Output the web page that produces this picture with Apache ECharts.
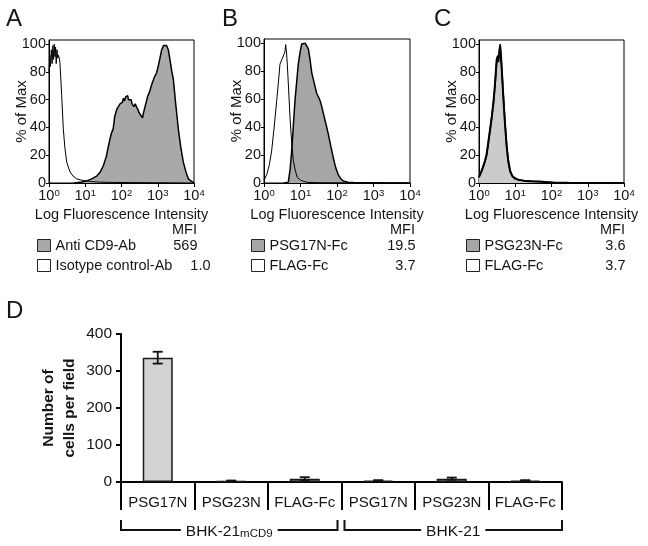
<!DOCTYPE html>
<html><head><meta charset="utf-8">
<script src="https://cdn.jsdelivr.net/npm/echarts@6/dist/echarts.min.js"></script>
<style>html,body{margin:0;padding:0;background:#fff}#c{width:648px;height:546px}</style>
</head><body><div id="c"></div>
<script>
const FONT = 'Liberation Sans, Arial, Helvetica, sans-serif';
const INK = '#151515';

// ---- Panel A: [fluorescence intensity, % of max]
const antiCD9 = [[5,0],[8,0.8],[11,1.5],[15,3],[20.7,5],[26,8],[31.5,12.4],[38,19],[44,27],[48,31.6],[53,36],[59,39],[65,48],[74,53],[82,55],[91,57],[105,58],[113,61],[120,59],[130,62],[139,61.6],[148,63],[155,60],[171,59],[185,60],[195,57],[220,55],[240,57],[262,54.5],[285,53],[300,51],[335,49],[361,48.5],[380,47],[400,50],[440,54.5],[480,58],[520,62],[600,66],[681,71],[740,72],[800,76],[935,79.6],[1050,85],[1150,90],[1285,96],[1450,99],[1585,100],[1750,99],[1954,96],[2200,88],[2450,80],[2685,75],[3100,58],[3690,39],[4300,26],[5070,15],[6000,8],[6966,3],[8200,1.5],[9550,0.5],[10000,0]];
const isotypeA = [[1,80],[1.06,92],[1.1,84],[1.16,96],[1.22,86],[1.28,99],[1.34,89],[1.4,100],[1.46,91],[1.52,98],[1.58,86],[1.66,96],[1.74,90],[1.84,92],[2.0,87],[2.24,63],[2.48,39],[2.75,25],[3.08,15],[3.8,8],[4.6,5],[5.8,3],[8,2],[11,1.5],[15,1],[25,0.6],[60,0.4],[200,0.3],[1000,0.2],[10000,0]];
// ---- Panel B
const psg17nFc = [[3.5,0],[4.63,0.5],[5.2,10],[5.74,23],[6.4,42],[7.07,59],[7.9,73],[8.7,85],[9.8,94],[10.8,99.5],[12,99],[13.3,100],[14.8,98],[16.4,96],[18.3,88],[20.3,79],[23.5,72],[27.8,64],[30.5,62],[34.2,59],[38,55],[42.2,49.8],[50,42],[57.8,35],[68,26],[79.2,18],[92,11],[108,6],[128,3],[149,1.4],[200,0.6],[280,0.3],[600,0.2],[10000,0]];
const flagFcB = [[1,2],[1.19,6],[1.4,13],[1.62,23],[1.9,40],[2.23,59],[2.5,73],[2.74,85],[3.05,88],[3.3,87],[3.53,92],[3.75,94],[3.93,99],[4.15,93],[4.35,85],[4.7,68],[5.15,47],[5.7,30],[6.35,16],[7.2,9],[8.17,4],[10,2],[14.8,0.5],[30,0.2],[10000,0]];
// ---- Panel C
const psg23nFc = [[1,4.5],[1.15,8],[1.31,12],[1.47,16],[1.63,21],[1.8,29],[2.01,38],[2.24,47],[2.48,57],[2.7,68],[2.89,79],[3.08,89],[3.28,91],[3.42,87],[3.56,88],[3.68,95],[3.8,99],[3.92,95],[4.05,91],[4.35,77],[4.68,62],[5.2,43],[5.81,26],[6.4,16],[7.16,9],[8.3,5],[9.84,3.4],[12,2.4],[16.7,1.7],[25,1.3],[48,1],[80,0.6],[112,0.2],[300,0.1],[10000,0]];
const flagFcC = [[1,4],[1.2,9],[1.4,14],[1.63,20],[1.9,33],[2.2,46],[2.5,58],[2.8,72],[3.05,86],[3.3,92],[3.5,90],[3.7,97],[3.85,100],[4.0,93],[4.3,80],[4.7,63],[5.2,44],[5.8,27],[6.5,15],[7.3,8],[8.5,4.5],[10,3],[13,2.2],[18,1.6],[30,1.2],[60,0.8],[120,0.3],[10000,0]];

const pctTicks = [0,20,40,60,80,100];
const seriesNames = [['Anti CD9-Ab','Isotype control-Ab'],['PSG17N-Fc','FLAG-Fc'],['PSG23N-Fc','FLAG-Fc']];
const mfiValues = [['569','1.0'],['19.5','3.7'],['3.6','3.7']];
const panelLetters = ['A','B','C','D'];

// ---- Panel D
const categories = ['PSG17N','PSG23N','FLAG-Fc','PSG17N','PSG23N','FLAG-Fc'];
const cellsMean = [336, 3, 9, 4, 9, 4];
const cellsErr = [16, 1, 4, 1, 3, 1];
const groupLabels = [['BHK-21','mCD9'],['BHK-21','']];
const countTicks = [0,100,200,300,400];

// layout (not data)
const histGrids = [
  {left:49, top:40, width:145, height:143},
  {left:264, top:39, width:146, height:144},
  {left:479, top:40, width:145, height:143}
];
const fills = ['#a9a9a9','#a6a6a6','#cbcbcb'];
const legendFills = ['#a9a9a9','#a6a6a6','#a6a6a6'];
const histData = [[antiCD9, isotypeA],[psg17nFc, flagFcB],[psg23nFc, flagFcC]];
const legendLeft = [37, 251, 466];
const valueRight = [[197,210],[415,415],[625,625]];

const grids = [], xAxes = [], yAxes = [], series = [], legends = [], titles = [];
histGrids.forEach((g, i) => {
  grids.push(Object.assign({show:true, borderColor:'#000', borderWidth:1, containLabel:false, outerBoundsMode:'none'}, g));
  xAxes.push({
    type:'log', logBase:10, min:1, max:10000, gridIndex:i,
    axisLine:{show:true, lineStyle:{color:'#000', width:1}},
    axisTick:{show:true, length:4, lineStyle:{color:'#000'}},
    splitLine:{show:false},
    axisLabel:{margin:5, color:INK, fontFamily:FONT,
      formatter: v => '{b|10}{s|' + Math.round(Math.log10(v)) + '}',
      rich:{b:{fontSize:14.5, fontFamily:FONT, color:INK}, s:{fontSize:9.5, fontFamily:FONT, color:INK, verticalAlign:'top'}}},
    name:'Log Fluorescence Intensity', nameLocation:'middle', nameGap:24, nameMoveOverlap:false,
    nameTextStyle:{fontSize:14.5, color:INK, fontFamily:FONT}
  });
  yAxes.push({
    type:'value', min:0, max:103, gridIndex:i,
    axisLine:{show:true, lineStyle:{color:'#000', width:1}},
    axisTick:{show:true, length:3, customValues:pctTicks, lineStyle:{color:'#000'}},
    axisLabel:{customValues:pctTicks, margin:3, fontSize:14.5, color:INK, fontFamily:FONT},
    splitLine:{show:false},
    name:'% of Max', nameLocation:'middle', nameGap:20, nameRotate:90, nameMoveOverlap:false,
    nameTextStyle:{fontSize:15, color:INK, fontFamily:FONT}
  });
  const [filled, open] = histData[i];
  series.push({
    type:'line', name:seriesNames[i][0], xAxisIndex:i, yAxisIndex:i, data:filled,
    symbol:'none', smooth:false, z:2,
    lineStyle:{color:'#000', width: i===2 ? 2 : 1.5},
    itemStyle:{color:fills[i]},
    areaStyle:{color:fills[i], opacity:1}
  });
  series.push({
    type:'line', name:seriesNames[i][1], xAxisIndex:i, yAxisIndex:i, data:open,
    symbol:'none', smooth:false, z:3,
    lineStyle:{color:'#000', width: i===2 ? 1.5 : 1},
    itemStyle:{color:'#fff'}
  });
  const names = seriesNames[i], mfi = mfiValues[i];
  const textStart = legendLeft[i] + 13 + 5;
  const nW = 100;
  const rich = {n:{width:nW, fontSize:14.5, color:INK, fontFamily:FONT}};
  mfi.forEach((m, k) => {
    rich['v'+k] = {width: valueRight[i][k] - textStart - nW, align:'right', fontSize:14.5, color:INK, fontFamily:FONT};
  });
  legends.push({
    orient:'vertical', left:legendLeft[i], top:238, padding:0, itemWidth:13, itemHeight:12, itemGap:5,
    icon:'rect', selectedMode:false,
    data: names.map((n, k) => ({name:n, itemStyle:{color: k===0 ? legendFills[i] : '#fff', borderColor:'#222', borderWidth:1}})),
    formatter: n => { const k = names.indexOf(n); return '{n|' + n + '}{v' + k + '|' + mfi[k] + '}'; },
    textStyle:{fontSize:14.5, color:INK, fontFamily:FONT, rich:rich}
  });
  titles.push({text:'MFI', right: 648 - valueRight[i][0], top:222, padding:0,
    textStyle:{fontSize:14.5, fontWeight:'normal', color:INK, fontFamily:FONT}});
});
const letterPos = [[6,7],[222,7],[434,7],[6,299]];
panelLetters.forEach((L, i) => titles.push({text:L, left:letterPos[i][0], top:letterPos[i][1], padding:0,
  textStyle:{fontSize:24, fontWeight:'normal', color:INK, fontFamily:FONT}}));

// Panel D
grids.push({left:121, top:334, width:441, height:148, show:false, containLabel:false, outerBoundsMode:'none'});
xAxes.push({
  type:'category', gridIndex:3, data:categories,
  axisLine:{show:true, lineStyle:{color:'#000', width:2}},
  axisTick:{show:true, interval:0, length:28, lineStyle:{color:'#000', width:2}},
  axisLabel:{interval:0, fontSize:15, margin:13, color:INK, fontFamily:FONT},
  splitLine:{show:false}
});
yAxes.push({
  type:'value', gridIndex:3, min:0, max:400, interval:100,
  axisLine:{show:true, lineStyle:{color:'#000', width:2}},
  axisTick:{show:true, length:5, lineStyle:{color:'#000', width:2}},
  axisLabel:{fontSize:15.5, margin:9, color:INK, fontFamily:FONT},
  splitLine:{show:false},
  name:'Number of\ncells per field', nameLocation:'middle', nameGap:41, nameRotate:90, nameMoveOverlap:false,
  nameTextStyle:{fontSize:15.5, fontWeight:'bold', lineHeight:21, color:INK, fontFamily:FONT}
});
series.push({
  type:'bar', xAxisIndex:3, yAxisIndex:3, data:cellsMean, barWidth:30,
  itemStyle:{color:'#d3d3d3', borderColor:'#1a1a1a', borderWidth:1.5}, z:2
});
series.push({
  type:'custom', xAxisIndex:3, yAxisIndex:3, z:4,
  data: cellsMean.map((m, i) => [i, m - cellsErr[i], m + cellsErr[i]]),
  encode:{x:0, y:[1,2]},
  renderItem: (params, api) => {
    const x = api.value(0);
    const lo = api.coord([x, api.value(1)]);
    const hi = api.coord([x, api.value(2)]);
    const cw = 5, st = {stroke:'#111', lineWidth:1.8};
    return {type:'group', children:[
      {type:'line', shape:{x1:lo[0], y1:lo[1], x2:hi[0], y2:hi[1]}, style:st},
      {type:'line', shape:{x1:hi[0]-cw, y1:hi[1], x2:hi[0]+cw, y2:hi[1]}, style:st},
      {type:'line', shape:{x1:lo[0]-cw, y1:lo[1], x2:lo[0]+cw, y2:lo[1]}, style:st}
    ]};
  }
});

const chart = echarts.init(document.getElementById('c'), null, {renderer:'canvas', width:648, height:546});
chart.setOption({
  animation:false, backgroundColor:'#fff',
  textStyle:{fontFamily:FONT},
  title:titles, legend:legends, grid:grids, xAxis:xAxes, yAxis:yAxes, series:series
});

// group brackets under panel D, placed from the category axis
const c0 = chart.convertToPixel({xAxisIndex:3, yAxisIndex:3}, [0, 0]);
const c1 = chart.convertToPixel({xAxisIndex:3, yAxisIndex:3}, [1, 0]);
const band = c1[0] - c0[0];
const edge = i => c0[0] + (i - 0.5) * band;
const base = c0[1] + 48;
const graphics = [];
groupLabels.forEach((lab, g) => {
  const xa = edge(g*3) + (g === 0 ? 0 : 3);
  const xb = edge(g*3 + 3) - (g === 0 ? 4 : 0);
  graphics.push({type:'polyline', shape:{points:[[xa, base-10],[xa, base],[xb, base],[xb, base-10]]},
    style:{stroke:'#111', lineWidth:2, fill:null}, z:10});
  graphics.push({type:'text', x:(xa+xb)/2, y:base + 2, z:11,
    style:{text: '{m|' + lab[0] + '}' + (lab[1] ? '{s|' + lab[1] + '}' : ''),
      align:'center', verticalAlign:'middle', backgroundColor:'#fff', padding:[0,5],
      rich:{m:{fontSize:15.5, lineHeight:16, fontFamily:FONT, fill:INK, verticalAlign:'top'},
            s:{fontSize:11.5, lineHeight:12, padding:[8,0,0,0], fontFamily:FONT, fill:INK, verticalAlign:'bottom'}}}});
});
chart.setOption({graphic:{elements:graphics}});
</script>
</body></html>
